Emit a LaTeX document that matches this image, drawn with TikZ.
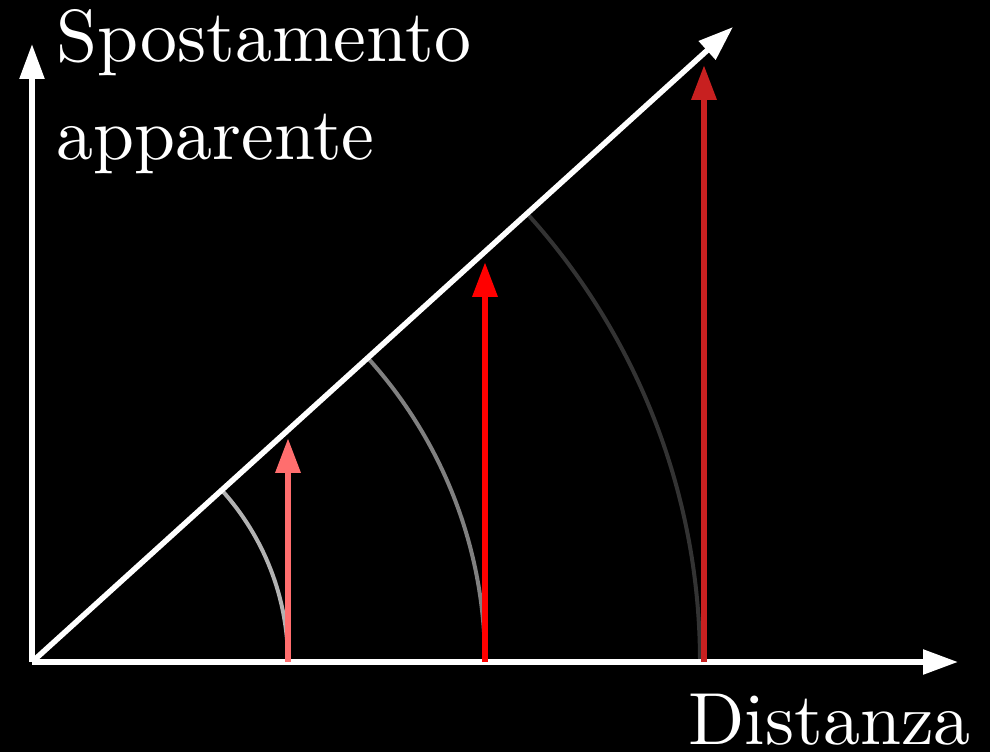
\documentclass[tikz,border=0pt]{standalone}
\usepackage{tikz}
\usetikzlibrary{arrows.meta}

\begin{document}
\begin{tikzpicture}[x=0.02cm,y=0.02cm,
  axis/.style={line width=0.11cm,white,-{Triangle[length=0.7cm,width=0.48cm]}},
  moveline/.style={line width=0.13cm,-{Triangle[length=0.7cm,width=0.48cm]}},
  circ/.style={line width=0.08cm},
  lbl/.style={white,font=\fontsize{10}{12}\selectfont,inner sep=0pt,scale=4.2,transform shape}]
\fill[black] (0,0) rectangle (990,752);
\useasboundingbox (0,0) rectangle (990,752);
\coordinate (O) at (32,90);
\coordinate (ytip) at (32,708);
\coordinate (xtip) at (958,90);
\coordinate (dtip) at (733,725);
% archi di uguale distanza
\draw[circ,color=black!30!white] (O) ++(256,0) arc (0:42.2:256);
\draw[circ,color=black!50!white] (O) ++(453,0) arc (0:42.2:453);
\draw[circ,color=black!80!white] (O) ++(668,0) arc (0:42.2:668);
% assi
\draw[axis] (O) -- (ytip);
\draw[axis] (O) -- (xtip);
\draw[axis] (O) -- (dtip);
% spostamenti
\coordinate (a0) at (288,90);
\coordinate (a1) at (288,314);
\coordinate (b0) at (485,90);
\coordinate (b1) at (485,490);
\coordinate (c0) at (704,90);
\coordinate (c1) at (704,687);
\draw[moveline,color={rgb,255:red,255;green,110;blue,110}] (a0) -- (a1);
\draw[moveline,color=red] (b0) -- (b1);
\draw[moveline,color={rgb,255:red,200;green,32;blue,32}] (c0) -- (c1);
\node[lbl,anchor=base west] (spost) at (55,690) {Spostamento};
\node[lbl,anchor=base west] (appar) at (55,592) {apparente};
\node[lbl,anchor=base west] (dist) at (687,8) {Distanza};
\end{tikzpicture}
\end{document}
